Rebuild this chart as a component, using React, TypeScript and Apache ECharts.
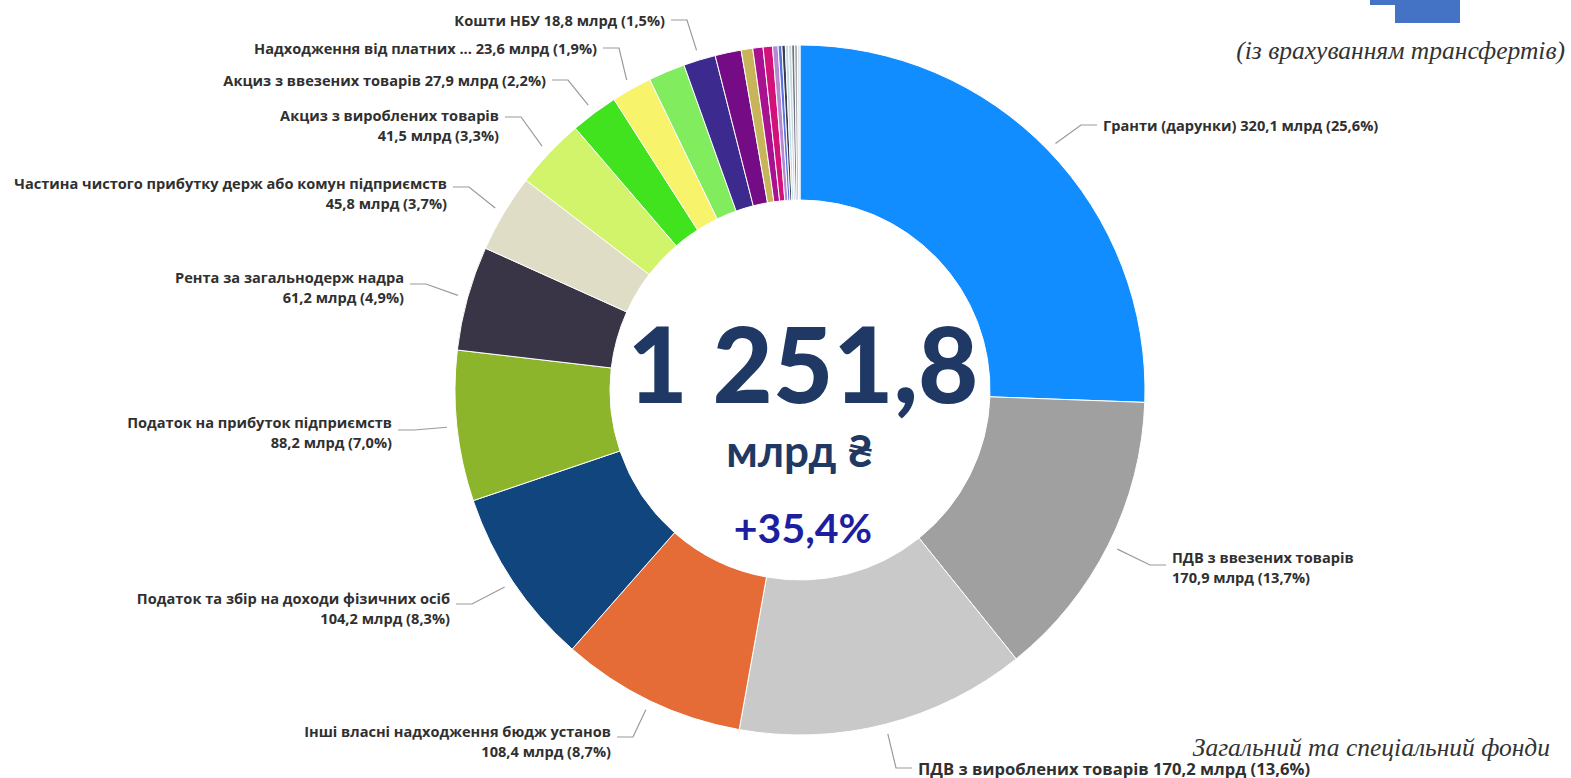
import { useEffect, useRef } from "react";
import * as echarts from "echarts";

// ---- data (clockwise from 12 o'clock) ----
const categories = [
  "Гранти (дарунки)",
  "ПДВ з ввезених товарів",
  "ПДВ з вироблених товарів",
  "Інші власні надходження бюдж установ",
  "Податок та збір на доходи фізичних осіб",
  "Податок на прибуток підприємств",
  "Рента за загальнодерж надра",
  "Частина чистого прибутку держ або комун підприємств",
  "Акциз з вироблених товарів",
  "Акциз з ввезених товарів",
  "Надходження від платних ...",
  "Інше 1",
  "Кошти НБУ",
  "Інше 2",
  "Інше 3",
  "Інше 4",
  "Інше 5",
  "Інше 6",
  "Інше 7",
  "Інше 8",
  "Інше 9",
  "Інше 10",
  "Інше 11",
  "Інше 12",
  "Інше 13",
];

const values = [
  320.1, 170.9, 170.2, 108.4, 104.2, 88.2, 61.2, 45.8, 41.5, 27.9, 23.6, 21.5, 18.8,
  15.3, 6.8, 6.0, 5.5, 3.2, 2.2, 2.0, 1.9, 1.8, 1.7, 1.6, 1.5,
];

const colors = [
  "#118DFF", "#A0A0A0", "#C9C9C9", "#E66C37", "#10467D", "#8DB52B", "#393546",
  "#DFDDC6", "#D2F46A", "#41E31F", "#F7F36B", "#80EC5E", "#3C2A8E",
  "#760C85", "#C8B55A", "#A81290", "#D2127A", "#B58AD0", "#5874E0", "#3D3B52",
  "#B9E0E6", "#D0D6DA", "#6E7484", "#A5A8AE", "#E2E6E8",
];

const totalLabel = "1 251,8";
const unitLabel = "млрд ₴";
const growthLabel = "+35,4%";
const subtitleTop = "(із врахуванням трансфертів)";
const subtitleBottom = "Загальний та спеціальний фонди";

// ---- label placement (layout only) ----
type LabelPos = {
  x: number;
  y: number;
  align: "left" | "right";
  twoLine: boolean;
  dy: number;
  size?: number;
} | null;
const labelPos: LabelPos[] = [
  { x: 1103, y: 125, align: "left", twoLine: false, dy: 0 },
  { x: 1172, y: 567, align: "left", twoLine: true, dy: -2 },
  { x: 918, y: 768, align: "left", twoLine: false, dy: 0, size: 16.6 },
  { x: 611, y: 741, align: "right", twoLine: true, dy: -4 },
  { x: 450, y: 608, align: "right", twoLine: true, dy: -4 },
  { x: 392, y: 432, align: "right", twoLine: true, dy: -2 },
  { x: 404, y: 287, align: "right", twoLine: true, dy: -3 },
  { x: 447, y: 193, align: "right", twoLine: true, dy: -6 },
  { x: 499, y: 125, align: "right", twoLine: true, dy: -8 },
  { x: 546, y: 80, align: "right", twoLine: false, dy: 0 },
  { x: 597, y: 48, align: "right", twoLine: false, dy: 0 },
  null,
  { x: 665, y: 20, align: "right", twoLine: false, dy: 0 },
  null, null, null, null, null, null, null, null, null, null, null, null,
];

const TOTAL = values.reduce((a, b) => a + b, 0);
const fmt = (v: number) => v.toFixed(1).replace(".", ",");

export default function App() {
  const ref = useRef<HTMLDivElement>(null);

  useEffect(() => {
    if (!ref.current) return;
    const chart = echarts.init(ref.current, undefined, { renderer: "svg" });

    const data = categories.map((name, i) => {
      const lp = labelPos[i];
      const label: any = { show: !!lp };
      if (lp && lp.size) label.fontSize = lp.size;
      return {
        name,
        value: values[i],
        itemStyle: { color: colors[i] },
        label,
        labelLine: { show: !!lp },
      };
    });

    chart.setOption({
      animation: false,
      backgroundColor: "#ffffff",
      series: [
        {
          type: "pie",
          center: [800, 390],
          radius: [190, 345],
          startAngle: 90,
          clockwise: true,
          avoidLabelOverlap: false,
          silent: true,
          itemStyle: { borderColor: "#ffffff", borderWidth: 1 },
          label: {
            show: true,
            position: "outside",
            color: "#303030",
            fontFamily: "Open Sans",
            fontWeight: "bold",
            fontSize: 14.6,
            lineHeight: 20,
            formatter: (p: any) => {
              const lp = labelPos[p.dataIndex];
              const pct = fmt((p.value / TOTAL) * 100);
              const v = fmt(p.value);
              if (!lp) return "";
              return lp.twoLine
                ? `${p.name}\n${v} млрд (${pct}%)`
                : `${p.name} ${v} млрд (${pct}%)`;
            },
          },
          labelLine: {
            show: true,
            length: 12,
            length2: 12,
            lineStyle: { color: "#9a9a9a", width: 1.2 },
          },
          labelLayout: (p: any) => {
            const lp = labelPos[p.dataIndex];
            if (!lp) return {};
            const pts = p.labelLinePoints;
            const sign = lp.align === "right" ? 1 : -1;
            const lineY = lp.y + lp.dy;
            const end = [lp.x + sign * 6, lineY];
            const elbow = [lp.x + sign * 22, lineY];
            const res: any = { x: lp.x, y: lp.y, align: lp.align, verticalAlign: "middle" };
            if (pts && pts.length > 1) {
              const dx = pts[1][0] - pts[0][0];
              const dy = pts[1][1] - pts[0][1];
              const l = Math.hypot(dx, dy) || 1;
              const start = [pts[0][0] + (dx / l) * 10, pts[0][1] + (dy / l) * 10];
              res.labelLinePoints = [start, elbow, end];
            }
            return res;
          },
          data,
        },
      ],
      graphic: [
        {
          type: "text",
          x: 803,
          y: 362,
          style: {
            text: totalLabel,
            fill: "#1F3864",
            fontFamily: "Lato, 'DejaVu Sans'",
            fontWeight: 900,
            fontSize: 104,
            align: "center",
            verticalAlign: "middle",
            textAlign: "center",
            textVerticalAlign: "middle",
          },
        },
        {
          type: "text",
          x: 800,
          y: 450,
          style: {
            text: unitLabel,
            fill: "#1F3864",
            fontFamily: "Lato, 'DejaVu Sans'",
            fontWeight: "bold",
            fontSize: 44,
            align: "center",
            verticalAlign: "middle",
            textAlign: "center",
            textVerticalAlign: "middle",
          },
        },
        {
          type: "text",
          x: 803,
          y: 527,
          style: {
            text: growthLabel,
            fill: "#1D1FA0",
            fontFamily: "Lato, 'DejaVu Sans'",
            fontWeight: "bold",
            fontSize: 41,
            align: "center",
            verticalAlign: "middle",
            textAlign: "center",
            textVerticalAlign: "middle",
          },
        },
        {
          type: "text",
          x: 1565,
          y: 50,
          style: {
            text: subtitleTop,
            fill: "#333333",
            fontFamily: "'Liberation Serif', 'DejaVu Serif'",
            fontStyle: "italic",
            fontSize: 25.5,
            align: "right",
            verticalAlign: "middle",
            textAlign: "right",
            textVerticalAlign: "middle",
          },
        },
        {
          type: "text",
          x: 1550,
          y: 747,
          style: {
            text: subtitleBottom,
            fill: "#333333",
            fontFamily: "'Liberation Serif', 'DejaVu Serif'",
            fontStyle: "italic",
            fontSize: 25.5,
            align: "right",
            verticalAlign: "middle",
            textAlign: "right",
            textVerticalAlign: "middle",
          },
        },
        {
          type: "polygon",
          shape: {
            points: [
              [1370, 0],
              [1460, 0],
              [1460, 23],
              [1395, 23],
              [1395, 5],
              [1370, 5],
            ],
          },
          style: { fill: "#4472C4" },
        },
      ],
    });

    return () => chart.dispose();
  }, []);

  return (
    <div
      ref={ref}
      style={{ position: "fixed", left: 0, top: 0, width: "1571px", height: "778px" }}
    />
  );
}
